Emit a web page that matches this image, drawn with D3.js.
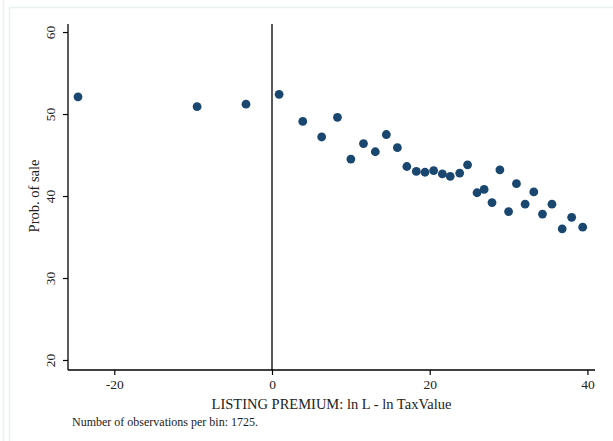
<!DOCTYPE html>
<html>
<head>
<meta charset="utf-8">
<script src="https://cdn.jsdelivr.net/npm/d3@7/dist/d3.min.js"></script>
<style>
  html, body { margin: 0; padding: 0; background: #fff; }
  svg { display: block; }
  text { font-family: "Liberation Serif", "DejaVu Serif", serif; fill: #222; }
</style>
</head>
<body>
<div id="chart"></div>
<script>
// Binned listing premium (x) vs. probability of sale (y)
const premium = [-24.6, -9.5, -3.3, 0.9, 3.9, 6.3, 8.3, 10.0, 11.6, 13.1, 14.5, 15.9,
  17.1, 18.3, 19.4, 20.5, 21.6, 22.6, 23.8, 24.8, 26.0, 26.9, 27.9, 28.9, 30.0, 31.0,
  32.1, 33.2, 34.3, 35.5, 36.8, 38.0, 39.4];
const probSale = [52.1, 50.9, 51.2, 52.4, 49.1, 47.2, 49.6, 44.5, 46.4, 45.4, 47.5, 45.9,
  43.6, 43.0, 42.9, 43.1, 42.7, 42.4, 42.8, 43.8, 40.4, 40.8, 39.2, 43.2, 38.1, 41.5,
  39.0, 40.5, 37.8, 39.0, 36.0, 37.4, 36.2];
const xTicks = [-20, 0, 20, 40];
const yTicks = [20, 30, 40, 50, 60];
const xTitle = "LISTING PREMIUM: ln L - ln TaxValue";
const yTitle = "Prob. of sale";
const note = "Number of observations per bin: 1725.";

const W = 613, H = 441;
const svg = d3.select("#chart").append("svg").attr("width", W).attr("height", H);

// faint outer frame lines
const frame = "#e8f0f1";
svg.append("line").attr("x1", 3.5).attr("x2", 3.5).attr("y1", 0).attr("y2", H).attr("stroke", frame).attr("stroke-width", 1.5);
svg.append("line").attr("x1", 9.5).attr("x2", 9.5).attr("y1", 7).attr("y2", H).attr("stroke", frame).attr("stroke-width", 1.5);
svg.append("line").attr("x1", 9.5).attr("x2", W).attr("y1", 7.5).attr("y2", 7.5).attr("stroke", frame).attr("stroke-width", 1.5);

const plot = { left: 68, right: 595, top: 24, bottom: 370 };

const x = d3.scaleLinear().domain([-25.87, 40.96]).range([plot.left, plot.right]);
const y = d3.scaleLinear().domain([18.78, 60.98]).range([plot.bottom, plot.top]);

// plain hyphen for negatives
const fmt = d => String(d);

// x axis
const xAxis = svg.append("g").attr("transform", `translate(0,${plot.bottom})`)
  .call(d3.axisBottom(x).tickValues(xTicks).tickSize(5).tickPadding(4).tickFormat(fmt));
xAxis.select(".domain").attr("d", `M${plot.left},0H${plot.right}`).attr("stroke", "#000").attr("stroke-width", 1.3);
xAxis.selectAll(".tick line").attr("stroke", "#000").attr("stroke-width", 1.2);
xAxis.selectAll(".tick text").style("font-size", "13.5px").attr("fill", "#222")
  .style("font-family", "'Liberation Serif', serif");

// y axis with vertical tick labels
const yAxis = svg.append("g").attr("transform", `translate(${plot.left},0)`)
  .call(d3.axisLeft(y).tickValues(yTicks).tickSize(5).tickFormat(fmt));
yAxis.select(".domain").attr("d", `M0,${plot.top}V${plot.bottom}`).attr("stroke", "#000").attr("stroke-width", 1.3);
yAxis.selectAll(".tick line").attr("stroke", "#000").attr("stroke-width", 1.2);
yAxis.selectAll(".tick text")
  .attr("x", 0).attr("dy", null)
  .attr("text-anchor", "middle")
  .attr("transform", "translate(-13,0) rotate(-90)")
  .style("font-size", "13.5px").attr("fill", "#222")
  .style("font-family", "'Liberation Serif', serif");

// reference line at zero premium
svg.append("line")
  .attr("x1", x(0)).attr("x2", x(0))
  .attr("y1", plot.top).attr("y2", plot.bottom)
  .attr("stroke", "#000").attr("stroke-width", 1.3);

// binned scatter points
svg.append("g").selectAll("circle")
  .data(premium.map((p, i) => [p, probSale[i]]))
  .join("circle")
  .attr("cx", d => x(d[0]))
  .attr("cy", d => y(d[1]))
  .attr("r", 4.4)
  .attr("fill", "#1a476f");

// titles
svg.append("text")
  .attr("x", (plot.left + plot.right) / 2).attr("y", 409)
  .attr("text-anchor", "middle")
  .style("font-size", "14.5px")
  .text(xTitle);

svg.append("text")
  .attr("transform", `translate(39,${(plot.top + plot.bottom) / 2 - 1}) rotate(-90)`)
  .attr("text-anchor", "middle")
  .style("font-size", "14.5px")
  .text(yTitle);

svg.append("text")
  .attr("x", 72).attr("y", 426)
  .style("font-size", "12px")
  .text(note);
</script>
</body>
</html>
